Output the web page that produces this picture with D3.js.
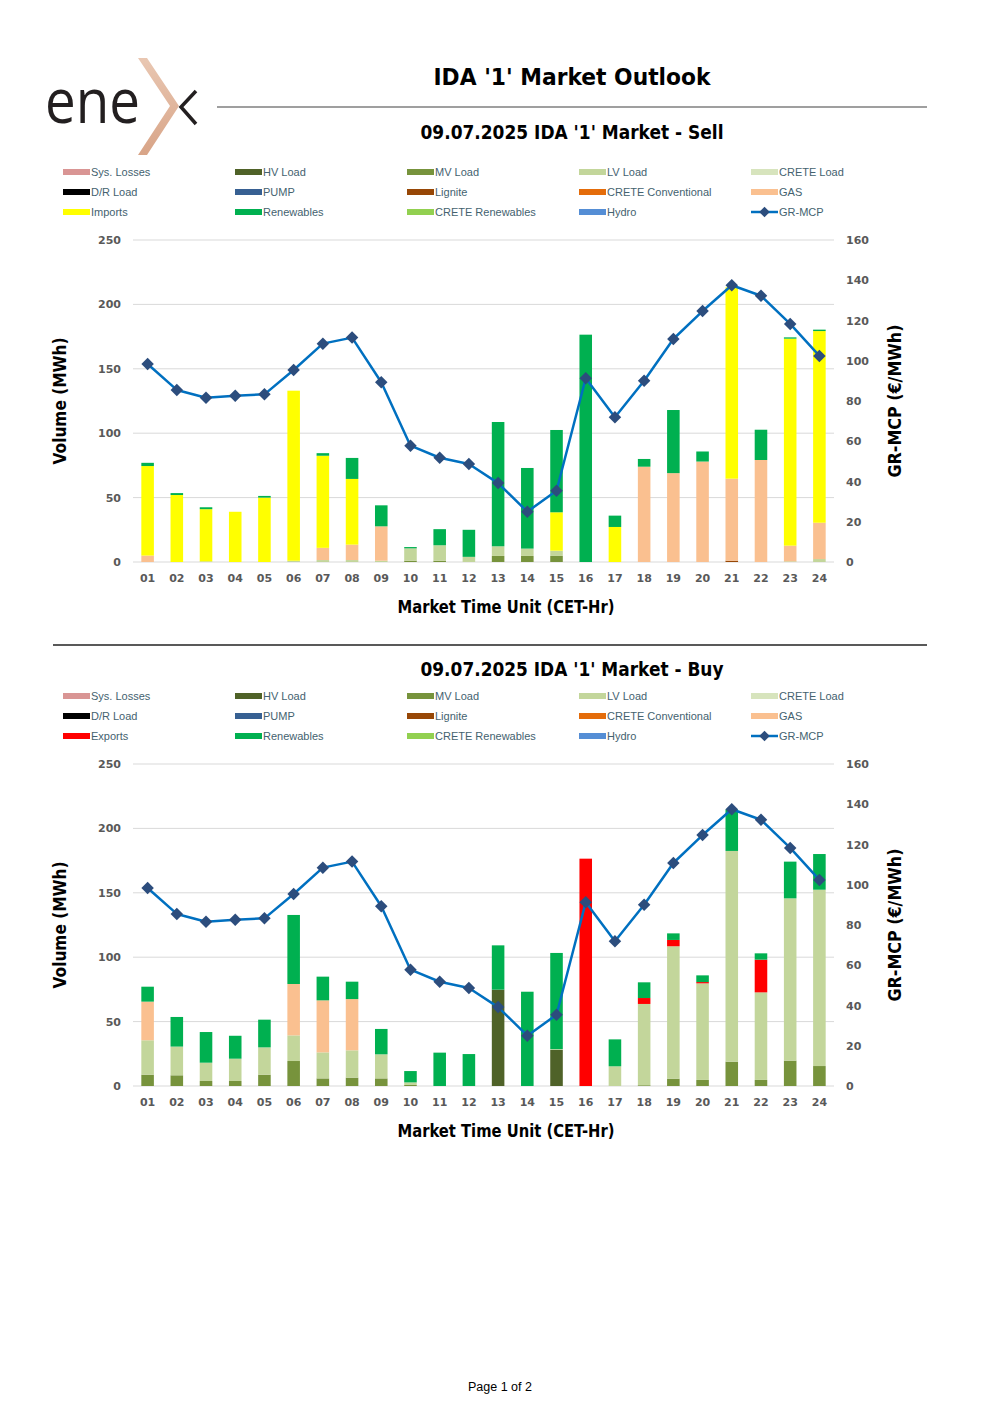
<!DOCTYPE html>
<html>
<head>
<meta charset="utf-8">
<script src="https://cdn.jsdelivr.net/npm/d3@7/dist/d3.min.js"></script>
<style>
  html, body { margin: 0; padding: 0; background: #fff; }
  svg { display: block; }
</style>
</head>
<body>
<svg id="page" width="1000" height="1415"></svg>
<script>
// ---------------- DATA ----------------
const hours = ["01","02","03","04","05","06","07","08","09","10","11","12","13","14","15","16","17","18","19","20","21","22","23","24"];
const leftTicks = [0, 50, 100, 150, 200, 250];
const rightTicks = [0, 20, 40, 60, 80, 100, 120, 140, 160];

const mcp = [98.4,85.5,81.6,82.6,83.3,95.4,108.5,111.5,89.3,57.8,51.8,48.7,39.2,25.0,35.4,91.3,71.9,90.1,110.8,124.7,137.5,132.3,118.3,102.4];

// Sell side
const sellMV       = [0,0,0,0,0,0,0,0,0,1,1,0,4.7,4.7,4.7,0,0,0,0,0,0,0,0,0];
const sellLV       = [0,0,0.5,0,0,1,1.5,1.5,1,9.6,12,4,7.5,5.7,4.1,0,0,0,0,0,0,0,0.5,2.3];
const sellLignite  = [0,0,0,0,0,0,0,0,0,0,0,0,0,0,0,0,0,0,0,0,1,0,0,0];
const sellGas      = [5,0,0,0,0,0,9.5,12,26.7,0,0,0,0,0,0,0,0,74,69,78,63.7,79.2,12.2,28.2];
const sellImports  = [69.5,52,40.5,39,50,132,71.5,51,0,0,0,0,0,0,29.8,0,27.2,0,0,0,148.6,0,160.7,148.8];
const sellRen      = [2.5,1.5,1.5,0,1.3,0,2,16.3,16.3,1,12.5,21,96.5,62.6,63.9,176.5,8.8,6,49,7.8,0,23.5,1,1.1];

// Buy side
const buyHV        = [0,0,0,0,0,0,0,0,0,0,0,0,74.8,0,28,0,0,0,0,0,0,0,0,0];
const buyMV        = [8.8,8.3,3.9,3.9,8.8,19.4,5.9,6.5,5.9,0.8,0,0,0,0,0,0,0,0.6,5.7,4.7,18.9,4.7,19.7,15.5];
const buyLV        = [26.7,22.3,14.2,17.3,21.2,19.9,20.2,21.2,18.7,2,0,0,0,0,0.6,0,15.3,63.1,102.8,75,163.6,68,126,136.9];
const buyGas       = [30,0,0,0,0,39.9,40.4,39.8,0,0,0,0,0,0,0,0,0,0,0,0,0,0,0,0];
const buyExports   = [0,0,0,0,0,0,0,0,0,0,0,0,0,0,0,176.5,0,4.6,4.9,1,0,25.4,0,0];
const buyRen       = [11.6,23,23.8,17.8,21.5,53.6,18.4,13.5,19.7,8.8,25.9,24.8,34.4,73.2,74.7,0,20.9,12.2,5.1,5.2,32.3,4.9,28.5,27.7];

const sellLegend = ["Sys. Losses","HV Load","MV Load","LV Load","CRETE Load","D/R Load","PUMP","Lignite","CRETE Conventional","GAS","Imports","Renewables","CRETE Renewables","Hydro","GR-MCP"];
const buyLegend  = ["Sys. Losses","HV Load","MV Load","LV Load","CRETE Load","D/R Load","PUMP","Lignite","CRETE Conventional","GAS","Exports","Renewables","CRETE Renewables","Hydro","GR-MCP"];

// ---------------- STYLE ----------------
const colors = {
  "Sys. Losses": "#D99594", "HV Load": "#4F6228", "MV Load": "#77933C", "LV Load": "#C3D69B",
  "CRETE Load": "#D7E4BD", "D/R Load": "#000000", "PUMP": "#376092", "Lignite": "#974706",
  "CRETE Conventional": "#E46C0A", "GAS": "#FAC090", "Imports": "#FFFF00", "Exports": "#FF0000",
  "Renewables": "#00B050", "CRETE Renewables": "#92D050", "Hydro": "#558ED5"
};
const lineColor = "#0070C0", markerColor = "#2C4D7D";

const svg = d3.select("#page");

// ---------------- HEADER ----------------
const logo = svg.append("g");
logo.append("text").attr("x", 45).attr("y", 123)
  .attr("font-family", "'Open Sans', 'DejaVu Sans', sans-serif").attr("font-weight", 400)
  .attr("font-size", 62).attr("fill", "#231F20").attr("textLength", 95).attr("lengthAdjust", "spacingAndGlyphs")
  .text("ene");
const grad = svg.append("defs").append("linearGradient").attr("id", "chev").attr("x1", 0).attr("y1", 0).attr("x2", 0).attr("y2", 1);
grad.append("stop").attr("offset", "0%").attr("stop-color", "#E9C7B2");
grad.append("stop").attr("offset", "100%").attr("stop-color", "#D8A487");
logo.append("path").attr("d", "M138,58 L147,58 L179,106 L147,155 L138,155 L170,106 Z").attr("fill", "url(#chev)");
logo.append("path").attr("d", "M196,91 L181,107 L196,124").attr("fill", "none").attr("stroke", "#231F20").attr("stroke-width", 3.5);

svg.append("text").attr("x", 572).attr("y", 85).attr("text-anchor", "middle")
  .attr("font-family", "'DejaVu Sans', sans-serif").attr("font-weight", "bold").attr("font-size", 23)
  .attr("textLength", 277).attr("lengthAdjust", "spacingAndGlyphs").attr("fill", "#000")
  .text("IDA '1' Market Outlook");
svg.append("line").attr("x1", 217).attr("x2", 927).attr("y1", 107).attr("y2", 107).attr("stroke", "#404040").attr("stroke-width", 1.2);

svg.append("line").attr("x1", 53).attr("x2", 927).attr("y1", 645).attr("y2", 645).attr("stroke", "#595959").attr("stroke-width", 2);

svg.append("text").attr("x", 500).attr("y", 1391).attr("text-anchor", "middle")
  .attr("font-family", "'Liberation Sans', Arial, sans-serif").attr("font-size", 12.5).attr("fill", "#000")
  .text("Page 1 of 2");

// ---------------- CHART ----------------
function drawChart(opt) {
  const off = opt.offset;
  const g = svg.append("g");
  const y0 = 562 + off, y1 = 240 + off;
  const x = d3.scaleBand().domain(hours).range([133, 834]).paddingInner(0.57).paddingOuter(0.285);
  const yL = d3.scaleLinear().domain([0, 250]).range([y0, y1]);
  const yR = d3.scaleLinear().domain([0, 160]).range([y0, y1]);

  // subtitle
  g.append("text").attr("x", 572).attr("y", opt.subY).attr("text-anchor", "middle")
    .attr("font-family", "'DejaVu Sans', sans-serif").attr("font-weight", "bold").attr("font-size", 19)
    .attr("textLength", 303).attr("lengthAdjust", "spacingAndGlyphs").attr("fill", "#000")
    .text(opt.title);

  // legend
  const colX = [63, 235, 407, 579, 751];
  const rowY = [172 + off, 192 + off, 212 + off];
  opt.legend.forEach((name, i) => {
    const cx = colX[i % 5], cy = rowY[Math.floor(i / 5)];
    const lg = g.append("g");
    if (name === "GR-MCP") {
      lg.append("line").attr("x1", cx).attr("x2", cx + 27).attr("y1", cy).attr("y2", cy).attr("stroke", lineColor).attr("stroke-width", 2.5);
      lg.append("path").attr("d", d3.symbol().type(d3.symbolSquare).size(55)()).attr("transform", `translate(${cx + 13.5},${cy}) rotate(45)`).attr("fill", markerColor);
    } else {
      lg.append("rect").attr("x", cx).attr("y", cy - 3).attr("width", 27).attr("height", 6).attr("fill", colors[name]);
    }
    lg.append("text").attr("x", cx + 28).attr("y", cy).attr("dy", "0.35em")
      .attr("font-family", "'Liberation Sans', Arial, sans-serif").attr("font-size", 11).attr("fill", "#44626F")
      .text(name);
  });

  // gridlines
  g.append("g").selectAll("line").data(leftTicks).join("line")
    .attr("x1", 133).attr("x2", 834).attr("y1", d => yL(d)).attr("y2", d => yL(d))
    .attr("stroke", "#D9D9D9").attr("stroke-width", 1);

  const tickStyle = sel => sel.selectAll("text").attr("font-family", "'DejaVu Sans', sans-serif")
    .attr("font-size", 11).attr("font-weight", "bold").attr("fill", "#595959");

  const axL = g.append("g").attr("transform", "translate(133,0)")
    .call(d3.axisLeft(yL).tickValues(leftTicks).tickSize(0).tickPadding(12));
  axL.select(".domain").remove();
  tickStyle(axL);

  const axR = g.append("g").attr("transform", "translate(834,0)")
    .call(d3.axisRight(yR).tickValues(rightTicks).tickSize(0).tickPadding(12));
  axR.select(".domain").remove();
  tickStyle(axR);

  const axB = g.append("g").attr("transform", `translate(0,${y0})`)
    .call(d3.axisBottom(x).tickSize(0).tickPadding(12));
  axB.select(".domain").remove();
  tickStyle(axB);

  // stacked bars
  const keys = opt.series.map(s => s.name);
  const rows = hours.map((h, i) => {
    const r = { hour: h };
    opt.series.forEach(s => r[s.name] = s.values[i]);
    return r;
  });
  const stack = d3.stack().keys(keys)(rows);
  g.append("g").selectAll("g").data(stack).join("g").attr("fill", d => colors[d.key])
    .selectAll("rect").data(d => d).join("rect")
    .attr("x", d => x(d.data.hour)).attr("width", x.bandwidth())
    .attr("y", d => yL(d[1])).attr("height", d => Math.max(0, yL(d[0]) - yL(d[1])));

  // line
  const line = d3.line().x((d, i) => x(hours[i]) + x.bandwidth() / 2).y(d => yR(d));
  g.append("path").datum(mcp).attr("d", line).attr("fill", "none").attr("stroke", lineColor).attr("stroke-width", 2.5).attr("stroke-linejoin", "round");
  g.append("g").selectAll("path").data(mcp).join("path")
    .attr("d", d3.symbol().type(d3.symbolSquare).size(78)())
    .attr("transform", (d, i) => `translate(${x(hours[i]) + x.bandwidth() / 2},${yR(d)}) rotate(45)`)
    .attr("fill", markerColor);

  // axis titles
  g.append("text").attr("transform", `translate(66,${401 + off}) rotate(-90)`).attr("text-anchor", "middle")
    .attr("font-family", "'DejaVu Sans', sans-serif").attr("font-weight", "bold").attr("font-size", 17)
    .attr("textLength", 127).attr("lengthAdjust", "spacingAndGlyphs").attr("fill", "#000").text("Volume (MWh)");
  g.append("text").attr("transform", `translate(901,${401 + off}) rotate(-90)`).attr("text-anchor", "middle")
    .attr("font-family", "'DejaVu Sans', sans-serif").attr("font-weight", "bold").attr("font-size", 17)
    .attr("textLength", 153).attr("lengthAdjust", "spacingAndGlyphs").attr("fill", "#000").text("GR-MCP (€/MWh)");
  g.append("text").attr("x", 506).attr("y", 613 + off).attr("text-anchor", "middle")
    .attr("font-family", "'DejaVu Sans', sans-serif").attr("font-weight", "bold").attr("font-size", 17)
    .attr("textLength", 217).attr("lengthAdjust", "spacingAndGlyphs").attr("fill", "#000").text("Market Time Unit (CET-Hr)");
}

drawChart({
  offset: 0, subY: 139, title: "09.07.2025  IDA '1' Market - Sell", legend: sellLegend,
  series: [
    { name: "MV Load", values: sellMV }, { name: "LV Load", values: sellLV },
    { name: "Lignite", values: sellLignite }, { name: "GAS", values: sellGas },
    { name: "Imports", values: sellImports }, { name: "Renewables", values: sellRen }
  ]
});
drawChart({
  offset: 524, subY: 676, title: "09.07.2025  IDA '1' Market - Buy", legend: buyLegend,
  series: [
    { name: "HV Load", values: buyHV }, { name: "MV Load", values: buyMV }, { name: "LV Load", values: buyLV },
    { name: "GAS", values: buyGas }, { name: "Exports", values: buyExports }, { name: "Renewables", values: buyRen }
  ]
});
</script>
</body>
</html>
